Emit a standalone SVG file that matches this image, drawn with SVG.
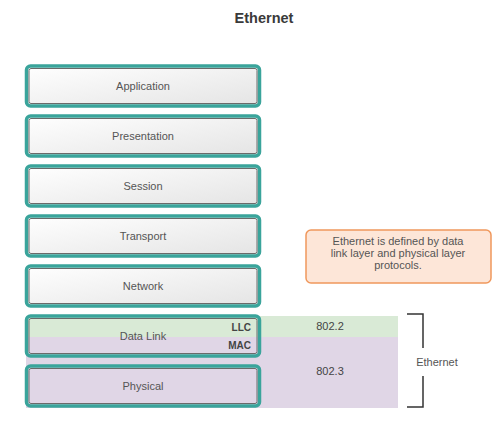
<svg xmlns="http://www.w3.org/2000/svg" width="497" height="423" viewBox="0 0 497 423">
<defs>
<linearGradient id="g" x1="0" y1="0" x2="1" y2="1">
<stop offset="0" stop-color="#ffffff"/><stop offset="1" stop-color="#e4e4e4"/>
</linearGradient>
<style>
.box{stroke:#3aa49b;stroke-width:3.5;}
.inner{fill:none;stroke:#6a6a6a;stroke-width:1;}
.lbl{font-family:"Liberation Sans",Arial,sans-serif;font-size:11px;fill:#555;text-anchor:middle;}
.b{font-family:"Liberation Sans",Arial,sans-serif;font-size:10px;font-weight:bold;fill:#444;}
</style>
</defs>
<rect width="497" height="423" fill="#fff"/>
<text x="264" y="23" text-anchor="middle" font-family="Liberation Sans,Arial,sans-serif" font-size="14.5" font-weight="bold" fill="#3a3a3a">Ethernet</text>
<rect x="26" y="316" width="372" height="21" fill="#d9ead6"/>
<rect x="26" y="337" width="372" height="71" fill="#e0d6e6"/>
<g id="application"><rect class="box" x="26.5" y="66" width="233" height="40" rx="4" fill="url(#g)"/><rect class="inner" x="29" y="68.5" width="228" height="35" rx="2"/><text class="lbl" x="143" y="90">Application</text></g>
<g id="presentation"><rect class="box" x="26.5" y="116" width="233" height="40" rx="4" fill="url(#g)"/><rect class="inner" x="29" y="118.5" width="228" height="35" rx="2"/><text class="lbl" x="143" y="140">Presentation</text></g>
<g id="session"><rect class="box" x="26.5" y="166" width="233" height="40" rx="4" fill="url(#g)"/><rect class="inner" x="29" y="168.5" width="228" height="35" rx="2"/><text class="lbl" x="143" y="190">Session</text></g>
<g id="transport"><rect class="box" x="26.5" y="216" width="233" height="40" rx="4" fill="url(#g)"/><rect class="inner" x="29" y="218.5" width="228" height="35" rx="2"/><text class="lbl" x="143" y="240">Transport</text></g>
<g id="network"><rect class="box" x="26.5" y="266" width="233" height="40" rx="4" fill="url(#g)"/><rect class="inner" x="29" y="268.5" width="228" height="35" rx="2"/><text class="lbl" x="143" y="290">Network</text></g>
<g id="datalink"><rect class="box" x="26.5" y="316" width="233" height="40" rx="4" fill="none"/><rect class="inner" x="29" y="318.5" width="228" height="35" rx="2"/><text class="lbl" x="143" y="340">Data Link</text><text class="b" x="251" y="331" text-anchor="end">LLC</text><text class="b" x="251" y="349" text-anchor="end">MAC</text></g>
<g id="physical"><rect class="box" x="26.5" y="366" width="233" height="40" rx="4" fill="none"/><rect class="inner" x="29" y="368.5" width="228" height="35" rx="2"/><text class="lbl" x="143" y="390">Physical</text></g>
<g id="std"><text class="lbl" x="330" y="330" style="fill:#444">802.2</text><text class="lbl" x="330" y="375" style="fill:#444">802.3</text></g>
<g id="callout"><rect x="306" y="230" width="185" height="53" rx="5" fill="#fde6d8" stroke="#f0985c" stroke-width="1.5"/>
<text class="lbl" font-size="10" x="398" y="245">Ethernet is defined by data</text>
<text class="lbl" font-size="10" x="398" y="257">link layer and physical layer</text>
<text class="lbl" font-size="10" x="398" y="269">protocols.</text></g>
<g id="connectors" fill="none" stroke="#333" stroke-width="1.5">
<polyline points="407,314 423,314 423,348"/>
<polyline points="423,376 423,407 407,407"/>
</g>
<g id="ethernet"><text class="lbl" x="437" y="366">Ethernet</text></g>
</svg>
